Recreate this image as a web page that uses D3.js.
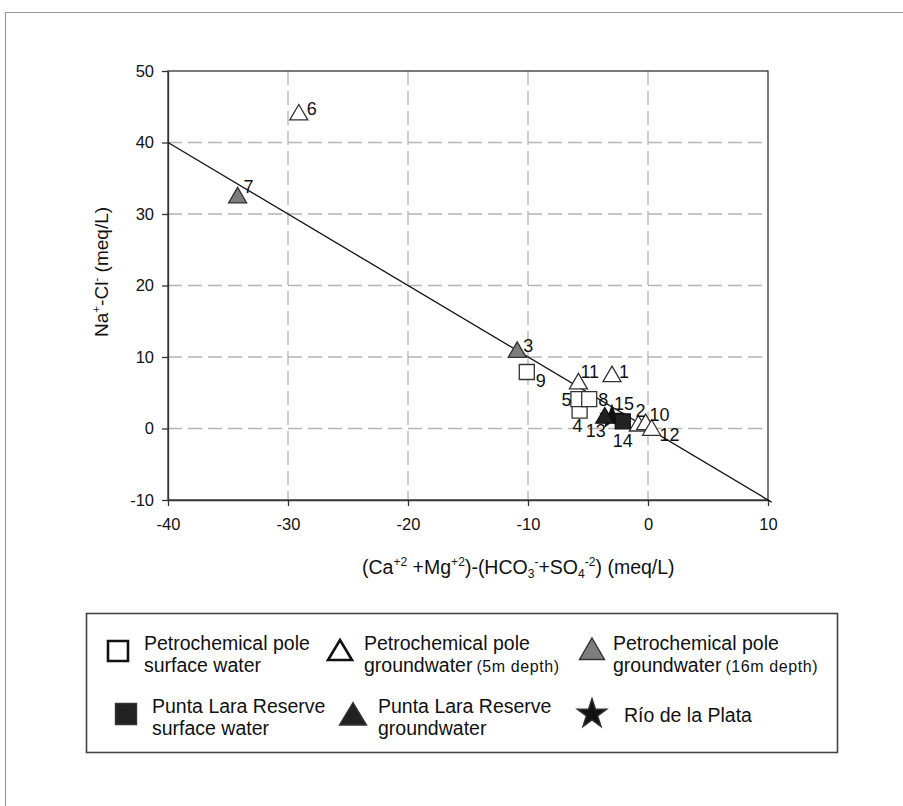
<!DOCTYPE html>
<html>
<head>
<meta charset="utf-8">
<script src="https://cdn.jsdelivr.net/npm/d3@7"></script>
<style>
  body { margin: 0; background: #fff; }
  text { font-family: "Liberation Sans", Arial, sans-serif; fill: #111; }
</style>
</head>
<body>
<div id="chart"></div>
<script>
// sample number, x = (Ca+Mg)-(HCO3+SO4), y = Na-Cl  (meq/L)
var sampleIds = [1, 2, 3, 4, 5, 6, 7, 8, 9, 10, 11, 12, 13, 14, 15];
var xValues   = [-3.0, -0.8, -10.9, -5.7, -5.8, -29.1, -34.2, -4.9, -10.1, -0.2, -5.8, 0.3, -3.6, -2.1, -3.0];
var yValues   = [7.6, 0.7, 11.0, 2.5, 4.1, 44.2, 32.6, 4.1, 7.9, 0.9, 6.6, 0.1, 1.8, 1.0, 1.6];
var groups    = ["gw5", "gw5", "gw16", "surf", "surf", "gw5", "gw16", "surf", "surf", "gw5", "gw5", "gw5", "plGw", "plSurf", "rio"];

// 1:1 line
var lineX = [-40, 10.3];
var lineY = [40, -10.3];

var xTicks = [-40, -30, -20, -10, 0, 10];
var yTicks = [-10, 0, 10, 20, 30, 40, 50];

var legendKeys  = ["surf", "gw5", "gw16", "plSurf", "plGw", "rio"];
var legendLine1 = ["Petrochemical pole", "Petrochemical pole", "Petrochemical pole", "Punta Lara Reserve", "Punta Lara Reserve", "Río de la Plata"];
var legendLine2 = ["surface water", "groundwater", "groundwater", "surface water", "groundwater", ""];
var legendSmall = ["", "(5m depth)", "(16m depth)", "", "", ""];

function main() {
  var width = 903, height = 806;

  var svg = d3.select("#chart")
    .append("svg")
      .attr("width", width)
      .attr("height", height);

  // outer frame of the figure
  svg.append("path")
    .attr("d", "M5.5,806 L5.5,12.5 L903,12.5")
    .attr("fill", "none")
    .attr("stroke", "#9a9a9a")
    .attr("stroke-width", 1.2);

  var x = d3.scaleLinear().domain([-40, 10]).range([168, 768]);
  var y = d3.scaleLinear().domain([-10, 50]).range([500, 71]);

  // dashed grid
  svg.append("g")
    .selectAll("line")
    .data(xTicks.slice(1, -1))
    .enter()
    .append("line")
      .attr("x1", function(d){ return x(d) })
      .attr("x2", function(d){ return x(d) })
      .attr("y1", y(50))
      .attr("y2", y(-10))
      .attr("stroke", "#b4b4b4")
      .attr("stroke-width", 1.3)
      .attr("stroke-dasharray", "14,6");

  svg.append("g")
    .selectAll("line")
    .data(yTicks.slice(1, -1))
    .enter()
    .append("line")
      .attr("x1", x(-40))
      .attr("x2", x(10))
      .attr("y1", function(d){ return y(d) })
      .attr("y2", function(d){ return y(d) })
      .attr("stroke", "#b4b4b4")
      .attr("stroke-width", 1.3)
      .attr("stroke-dasharray", "14,6");

  // plot frame
  svg.append("rect")
    .attr("x", x(-40))
    .attr("y", y(50))
    .attr("width", x(10) - x(-40))
    .attr("height", y(-10) - y(50))
    .attr("fill", "none")
    .attr("stroke", "#333")
    .attr("stroke-width", 1.3);

  // axes (plain hyphen for negatives, like the original)
  var fmt = function(d){ return String(d) };
  var xAxis = svg.append("g")
    .attr("transform", "translate(0," + y(-10) + ")")
    .call(d3.axisBottom(x).tickValues(xTicks).tickFormat(fmt).tickSize(6).tickSizeOuter(0).tickPadding(12));
  var yAxis = svg.append("g")
    .attr("transform", "translate(" + x(-40) + ",0)")
    .call(d3.axisLeft(y).tickValues(yTicks).tickFormat(fmt).tickSize(6).tickSizeOuter(0).tickPadding(8));

  [xAxis, yAxis].forEach(function(a) {
    a.select(".domain").attr("stroke", "#333").attr("stroke-width", 1.3);
    a.selectAll(".tick line").attr("stroke", "#333").attr("stroke-width", 1.3);
    a.selectAll(".tick text")
      .attr("font-size", "16.5px")
      .attr("font-family", "Liberation Sans, Arial, sans-serif")
      .attr("fill", "#111");
  });

  // regression line
  var lineData = lineX.map(function(v, i){ return [v, lineY[i]] });
  svg.append("path")
    .datum(lineData)
    .attr("d", d3.line().x(function(d){ return x(d[0]) }).y(function(d){ return y(d[1]) }))
    .attr("fill", "none")
    .attr("stroke", "#111")
    .attr("stroke-width", 1.3);

  // marker styles
  var markerStyle = {
    surf:   {shape: "square",   fill: "#fff",    stroke: "#333"},
    gw5:    {shape: "triangle", fill: "#fff",    stroke: "#333"},
    gw16:   {shape: "triangle", fill: "#7d7d7d", stroke: "#333"},
    plSurf: {shape: "square",   fill: "#222",    stroke: "#111"},
    plGw:   {shape: "triangle", fill: "#222",    stroke: "#111"},
    rio:    {shape: "star",     fill: "#111",    stroke: "#111"}
  };

  function shapePath(shape) {
    if (shape == "square") return "M-7.5,-7.5H7.5V7.5H-7.5Z";
    if (shape == "triangle") return "M0,-8L9,7.5H-9Z";
    return d3.symbol().type(d3.symbolStar).size(150)();
  }

  var points = sampleIds.map(function(id, i) {
    return {id: id, x: xValues[i], y: yValues[i], group: groups[i]};
  });

  // star first so it sits behind its neighbours
  var drawOrder = points.slice().sort(function(a, b) {
    return (a.group == "rio" ? 0 : 1) - (b.group == "rio" ? 0 : 1);
  });

  svg.append("g")
    .selectAll("path")
    .data(drawOrder)
    .enter()
    .append("path")
      .attr("transform", function(d){ return "translate(" + x(d.x) + "," + y(d.y) + ")" })
      .attr("d", function(d){ return shapePath(markerStyle[d.group].shape) })
      .attr("fill", function(d){ return markerStyle[d.group].fill })
      .attr("stroke", function(d){ return markerStyle[d.group].stroke })
      .attr("stroke-width", 1.3);

  // where each sample number sits relative to its marker
  var labelOffset = {
    1: [7, 4], 2: [-3, -6], 3: [6, 2], 4: [-7, 21], 5: [-7, 7, "end"],
    6: [8, 3], 7: [6, -2], 8: [9, 7], 9: [9, 15], 10: [4, -1],
    11: [2, -3], 12: [8, 13], 13: [-19, 21], 14: [-10, 26], 15: [2, -7]
  };

  svg.append("g")
    .selectAll("text")
    .data(points)
    .enter()
    .append("text")
      .attr("x", function(d){ return x(d.x) + labelOffset[d.id][0] })
      .attr("y", function(d){ return y(d.y) + labelOffset[d.id][1] })
      .attr("text-anchor", function(d){ return labelOffset[d.id][2] || "start" })
      .attr("font-size", "18px")
      .text(function(d){ return d.id });

  // rich text helper: parts = [[text, kind]]
  function rich(sel, parts, size) {
    var shift = 0;
    parts.forEach(function(p) {
      var t = sel.append("tspan").text(p[0]);
      var target = 0, fs = size;
      if (p[1] == "sup") { target = -size * 0.4; fs = size * 0.62; }
      if (p[1] == "sub") { target = size * 0.18; fs = size * 0.62; }
      t.attr("dy", target - shift).attr("font-size", fs + "px");
      shift = target;
    });
  }

  // axis titles
  var xt = svg.append("text")
    .attr("x", 362)
    .attr("y", 574)
    .attr("font-size", "19.5px");
  rich(xt, [["(Ca", "n"], ["+2", "sup"], [" +Mg", "n"], ["+2", "sup"], [")-(HCO", "n"], ["3", "sub"], ["-", "sup"],
            ["+SO", "n"], ["4", "sub"], ["-2", "sup"], [") (meq/L)", "n"]], 19.5);

  var yt = svg.append("text")
    .attr("transform", "translate(108,272) rotate(-90)")
    .attr("text-anchor", "middle")
    .attr("font-size", "19px");
  rich(yt, [["Na", "n"], ["+", "sup"], ["-Cl", "n"], ["-", "sup"], [" (meq/L)", "n"]], 19);

  // legend
  svg.append("rect")
    .attr("x", 86.5)
    .attr("y", 613.5)
    .attr("width", 751)
    .attr("height", 139)
    .attr("fill", "#fff")
    .attr("stroke", "#444")
    .attr("stroke-width", 1.6);

  var legendPos = [
    {mx: 118, my: 651, tx: 144, ty: 650},
    {mx: 340, my: 650, tx: 364, ty: 650},
    {mx: 592, my: 649, tx: 613, ty: 650},
    {mx: 126, my: 714, tx: 152, ty: 713},
    {mx: 353, my: 714, tx: 378, ty: 713},
    {mx: 592, my: 714, tx: 624, ty: 722}
  ];
  var legendMarker = {
    surf: "M-10,-10H10V10H-10Z",
    plSurf: "M-10.5,-10.5H10.5V10.5H-10.5Z",
    gw5: "M0,-10L12,10H-12Z",
    gw16: "M0,-11L12.5,10.5H-12.5Z",
    plGw: "M0,-11.5L13.5,11H-13.5Z",
    rio: d3.symbol().type(d3.symbolStar).size(270)()
  };

  var leg = svg.append("g");
  legendKeys.forEach(function(k, i) {
    var p = legendPos[i];
    leg.append("path")
      .attr("transform", "translate(" + p.mx + "," + p.my + ")")
      .attr("d", legendMarker[k])
      .attr("fill", markerStyle[k].fill)
      .attr("stroke", k == "surf" || k == "gw5" ? "#111" : "#333")
      .attr("stroke-width", k == "surf" || k == "gw5" ? 2.6 : 1.4);

    leg.append("text")
      .attr("x", p.tx)
      .attr("y", p.ty)
      .attr("font-size", "19.5px")
      .text(legendLine1[i]);
    if (legendLine2[i]) {
      var t2 = leg.append("text")
        .attr("x", p.tx)
        .attr("y", p.ty + 22)
        .attr("font-size", "19.5px")
        .text(legendLine2[i]);
      if (legendSmall[i]) {
        var w = t2.node().getComputedTextLength();
        leg.append("text")
          .attr("x", p.tx + w + 4)
          .attr("y", p.ty + 22)
          .attr("font-size", "16px")
          .attr("letter-spacing", "0.6px")
          .text(legendSmall[i]);
      }
    }
  });
}
main();
</script>
</body>
</html>
